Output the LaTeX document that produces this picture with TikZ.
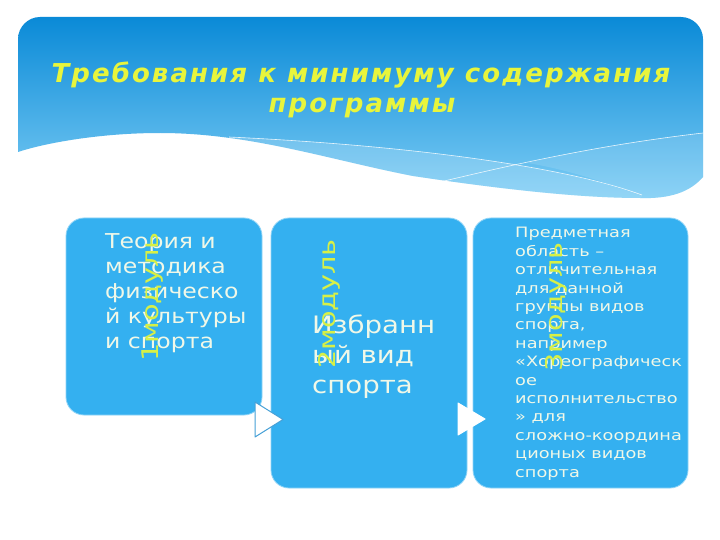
\documentclass[tikz,border=0pt]{standalone}
\usepackage{fontspec}
\setmainfont{DejaVu Sans}
\newfontfamily\titlefont[LetterSpace=8]{DejaVu Sans}
\newfontfamily\bodyfont[FakeStretch=1.15]{DejaVu Sans}
\newfontfamily\smallbodyfont[FakeStretch=1.24]{DejaVu Sans}
\newfontfamily\labelfont[FakeStretch=1.25]{DejaVu Sans}
\definecolor{hdtop}{RGB}{10,138,215}
\definecolor{hdmid}{RGB}{60,172,236}
\definecolor{hdbot}{RGB}{125,205,245}
\definecolor{cardblue}{RGB}{52,176,240}
\definecolor{cardtext}{RGB}{240,248,232}
\definecolor{ttlyellow}{RGB}{232,245,60}
\definecolor{lblyellow}{RGB}{215,240,70}
\definecolor{triline}{RGB}{70,160,215}
\tikzset{
  card/.style={rectangle, rounded corners=18pt, fill=cardblue, draw=cardblue!55!white, line width=0.8pt, inner sep=0pt},
  ttl/.style={text=ttlyellow, font=\titlefont\bfseries\itshape\fontsize{26}{30}\selectfont, inner sep=0pt, anchor=base},
  bodytxt/.style={text=cardtext, align=left, inner sep=0pt, anchor=base west},
  modlabel/.style={text=lblyellow, font=\labelfont\fontsize{23}{26}\selectfont, inner sep=0pt, rotate=90, anchor=center},
  tri/.style={fill=white, draw=triline, line width=1pt, line join=round}
}
\begin{document}
\begin{tikzpicture}[x=1pt,y=-1pt]
\useasboundingbox (0,0) rectangle (720,540);
\fill[white] (0,0) rectangle (720,540);
% header
\shade[top color=hdtop, middle color=hdmid, bottom color=hdbot]
  (18,152) -- (18,39) .. controls (18,27) and (28,17) .. (40,17) -- (681,17)
  .. controls (693,17) and (703,27) .. (703,39) -- (703,177)
  .. controls (690,192) and (670,199) .. (640,198)
  .. controls (590,198) and (520,192) .. (413,176)
  .. controls (330,160) and (250,133) .. (160,133)
  .. controls (100,133) and (45,143) .. (18,152) -- cycle;
% lighter bands
\fill[white, opacity=0.18]
  (229,137) .. controls (400,145) and (560,165) .. (642,196)
  -- (640,198) .. controls (590,198) and (520,192) .. (413,176)
  .. controls (360,166) and (290,150) .. (229,138) -- cycle;
\fill[white, opacity=0.12]
  (527,163) .. controls (580,150) and (640,140) .. (703,133) -- (703,177)
  .. controls (690,192) and (670,199) .. (640,198) -- (642,196)
  .. controls (600,180) and (560,168) .. (527,163) -- cycle;
\draw[white, line width=0.6pt, opacity=0.85]
  (229,137) .. controls (400,145) and (560,165) .. (642,195);
\draw[white, line width=0.6pt, opacity=0.85]
  (440,182) .. controls (520,163) and (600,145) .. (703,133);
% title
\node[ttl] (t1) at (361,83) {Требования к минимуму содержания};
\node[ttl] (t2) at (362,113) {программы};
% cards
\node[card, minimum width=196pt, minimum height=197pt] (c1) at (164,316.5) {};
\node[card, minimum width=196pt, minimum height=270pt] (c2) at (369,353) {};
\node[card, minimum width=215pt, minimum height=270pt] (c3) at (580.5,353) {};
% card texts (anchored at the baseline of the last line)
\node[bodytxt, font=\bodyfont\fontsize{20.5}{25}\selectfont] (x1) at (105,348)
  {Теория и\\методика\\физическо\\й культуры\\и спорта};
\node[bodytxt, font=\bodyfont\fontsize{24}{30}\selectfont] (x2) at (312,393)
  {Избранн\\ый вид\\спорта};
\node[bodytxt, font=\smallbodyfont\fontsize{14.3}{18.4}\selectfont] (x3) at (515,477)
  {Предметная\\область –\\отличительная\\для данной\\группы видов\\спорта,\\например\\«Хореографическ\\ое\\исполнительство\\» для\\сложно-координа\\ционых видов\\спорта};
% module labels
\node[modlabel] (m1) at (153,297) {1модуль};
\node[modlabel] (m2) at (329,304) {2модуль};
\node[modlabel] (m3) at (556,307) {3модуль};
% arrows between cards
\path[tri] (255,402) -- (283,419.5) -- (255,437) -- cycle;
\path[tri, draw=white] (458,403) -- (485,419) -- (458,435) -- cycle;
\end{tikzpicture}
\end{document}
